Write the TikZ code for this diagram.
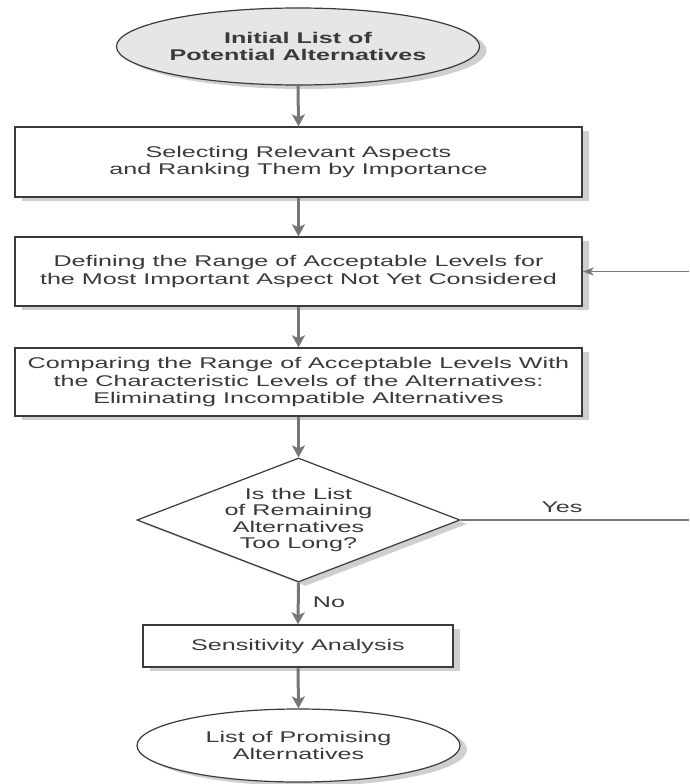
\documentclass[tikz,border=0pt]{standalone}
\usepackage{fontspec}
\setmainfont[FakeStretch=1.62]{Liberation Sans}
\usetikzlibrary{shapes.geometric,arrows.meta,shadows}
\definecolor{ink}{HTML}{3A3A3A}
\definecolor{flow}{HTML}{767676}
\definecolor{shade}{HTML}{CFCFCF}
\definecolor{startfill}{HTML}{E6E6E6}

\begin{document}
\begin{tikzpicture}[x=1pt,y=-1pt,
  every node/.style={font=\fontsize{15.5}{17.5}\selectfont, text=ink, inner sep=0pt, align=center},
  boxshadow/.style={drop shadow={shadow xshift=7pt,shadow yshift=-4pt,fill=shade,opacity=1}},
  stepbox/.style={rectangle, draw=ink, line width=1.4pt, fill=white, boxshadow},
  terminal/.style={ellipse, draw=ink, line width=1.2pt, fill=white, boxshadow},
  decision/.style={diamond, aspect=2.6, draw=ink, line width=1.2pt, fill=white, boxshadow,
    font=\fontsize{15.5}{16.5}\selectfont},
  flowarrow/.style={draw=flow, line width=3pt, -{Stealth[length=12pt,width=13pt,inset=3pt]}},
  looparrow/.style={draw=flow, line width=1.6pt, -{Stealth[length=11pt,width=8pt,inset=3pt]}},
  yesline/.style={draw=flow, line width=1.8pt},
  tag/.style={font=\fontsize{15.5}{17.5}\selectfont}
]
\useasboundingbox (0,0) rectangle (689,784);

% terminals and steps of the screening procedure
\node[terminal, fill=startfill, minimum width=324pt, minimum height=77pt,
      font=\fontsize{15.5}{17.5}\selectfont\bfseries] (start) at (298,46.5)
  {Initial List of\\Potential Alternatives};

\node[stepbox, minimum width=567pt, minimum height=70pt] (select) at (298.5,162)
  {Selecting Relevant Aspects\\and Ranking Them by Importance};

\node[stepbox, minimum width=567pt, minimum height=69pt] (define) at (298.5,271.5)
  {Defining the Range of Acceptable Levels for\\the Most Important Aspect Not Yet Considered};

\node[stepbox, minimum width=567pt, minimum height=68pt] (compare) at (298.5,382)
  {Comparing the Range of Acceptable Levels With\\the Characteristic Levels of the Alternatives:\\Eliminating Incompatible Alternatives};

\node[decision, minimum width=323pt, minimum height=124pt] (check) at (298.5,520)
  {Is the List\\of Remaining\\Alternatives\\Too Long?};

\node[stepbox, minimum width=310pt, minimum height=42pt] (sens) at (298,646)
  {Sensitivity Analysis};

\node[terminal, minimum width=323pt, minimum height=73pt] (final) at (298.5,745.5)
  {List of Promising\\Alternatives};

% main flow
\draw[flowarrow] (start.south) -- (select.north);
\draw[flowarrow] (select.south) -- (define.north);
\draw[flowarrow] (define.south) -- (compare.north);
\draw[flowarrow] (compare.south) -- (check.north);
\draw[flowarrow] (check.south) -- (sens.north);
\draw[flowarrow] (sens.south) -- (final.north);

% loop back for the next aspect
\coordinate (loopin) at (689,271.5);
\draw[looparrow] (loopin) -- (define.east);

\coordinate (yesend) at (689,520);
\draw[yesline] (check.east) -- (yesend);

\node[tag] (yes) at (562,507) {Yes};
\node[tag] (no) at (329,602) {No};
\end{tikzpicture}
\end{document}
